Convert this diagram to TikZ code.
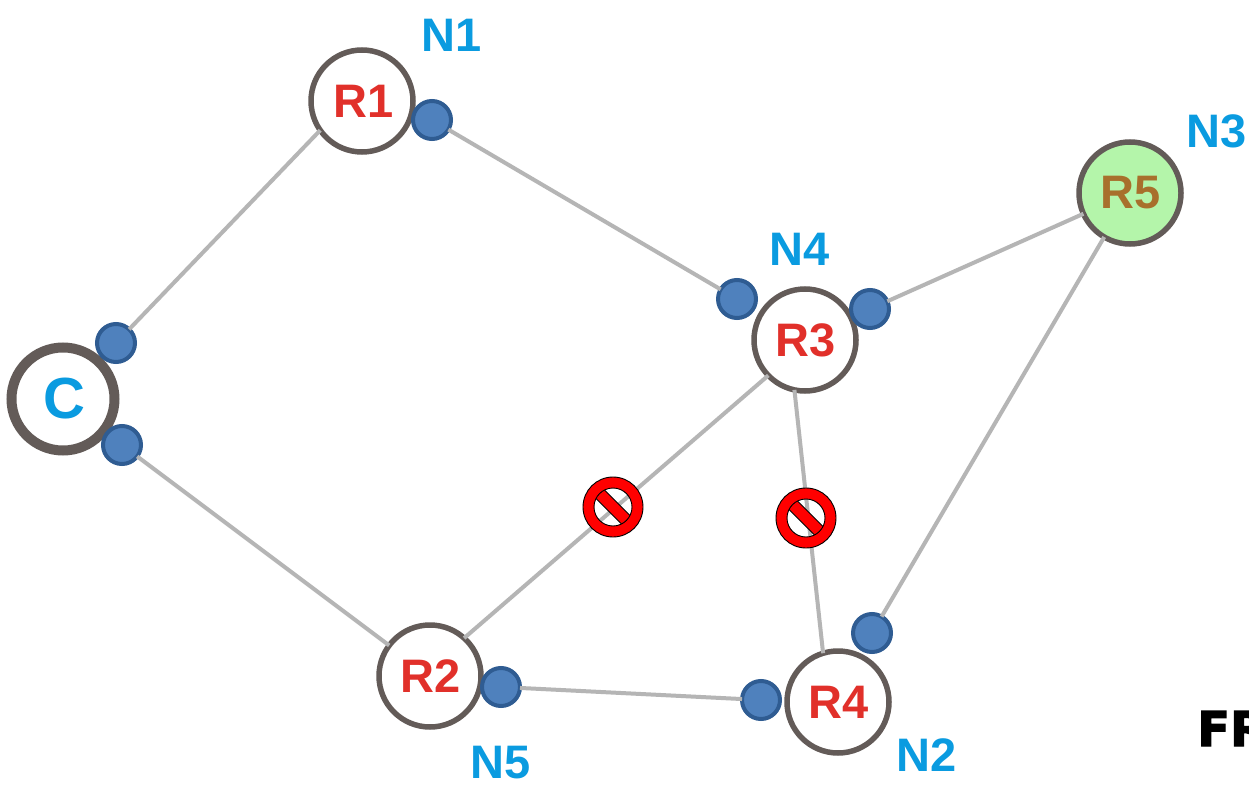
\documentclass[tikz,border=0pt]{standalone}
\usepackage{fontspec}
\setmainfont{Liberation Sans}
\newfontfamily\heavyfont[FakeBold=2.5]{DejaVu Sans Bold}
\definecolor{ringgray}{HTML}{635B58}
\definecolor{routerred}{HTML}{E1302A}
\definecolor{labelblue}{HTML}{0A9BE0}
\definecolor{dotfill}{HTML}{4F81BD}
\definecolor{dotline}{HTML}{2F5C92}
\definecolor{edgegray}{HTML}{B5B5B5}
\definecolor{greenfill}{HTML}{B4F5AA}
\definecolor{browntext}{HTML}{A8702C}
\tikzset{
  router/.style={circle,draw=ringgray,line width=5.5pt,fill=white,minimum size=102pt,inner sep=0pt,outer sep=0pt,
     text=routerred,font=\fontsize{47pt}{47pt}\selectfont\bfseries},
  client/.style={router,line width=10pt,minimum size=103pt,text=labelblue,font=\fontsize{58pt}{58pt}\selectfont\bfseries},
  dest/.style={router,fill=greenfill,text=browntext},
  dot/.style={circle,draw=dotline,line width=4pt,fill=dotfill,minimum size=38pt,inner sep=0pt,outer sep=0pt},
  netlabel/.style={text=labelblue,inner sep=0pt,font=\fontsize{47pt}{47pt}\selectfont\bfseries},
  edge/.style={draw=edgegray,line width=4pt},
  blocked/.pic={
    \begin{scope}
      \clip (0,0) circle (20pt);
      \draw[black,line width=0.8pt,fill=red,rotate=-45] (-24pt,-6pt) rectangle (24pt,6pt);
    \end{scope}
    \fill[red,even odd rule] (0,0) circle (30pt) (0,0) circle (19pt);
    \draw[black,line width=0.9pt] (0,0) circle (30pt);
    \draw[black,line width=0.9pt] (0,0) circle (19pt);
  },
}
\begin{document}
\begin{tikzpicture}[x=1pt,y=-1pt]
\useasboundingbox (0,0) rectangle (1249,786);
\clip (0,0) rectangle (1249,786);
\fill[white] (0,0) rectangle (1249,786);
\node[router] (R1) at (362,101) {\kern3pt R1};
\node[router] (R2) at (430,676) {\kern2pt R2};
\node[router] (R3) at (805,340) {\kern2pt R3};
\node[router] (R4) at (838,702) {\kern2pt R4};
\node[dest] (R5) at (1130,193) {\kern2pt R5};
\node[client] (C) at (63,399) {\kern3pt C};
\node[dot] (d1) at (432,120) {};
\node[dot] (d4) at (737,299) {};
\node[dot] (d3) at (870,309) {};
\node[dot] (c1) at (116,343) {};
\node[dot] (c2) at (122,445) {};
\node[dot] (d2) at (872,633) {};
\node[dot] (d6) at (761,700) {};
\node[dot] (d5) at (501,687) {};
\path[edge] (c1) -- (R1.215);
\path[edge] (d1) -- (d4);
\path[edge] (d3) -- (R5);
\path[edge] (d2) -- (R5);
\path[edge] (c2) -- (R2);
\path[edge] (R2.48) -- (R3.224);
\path[edge] (R3.258) -- (R4.107);
\path[edge] (d5) -- (d6);
\pic at (613,507) {blocked};
\pic at (806,518) {blocked};
\node[netlabel] (n1) at (452,35) {N1};
\node[netlabel] (n2) at (927,755) {N2};
\node[netlabel] (n3) at (1217,131) {N3};
\node[netlabel] (n4) at (800,249) {N4};
\node[netlabel] (n5) at (501,763) {N5};
\node[anchor=base west,inner sep=0pt,text=black] (fr) at (1197,746) {\heavyfont\fontsize{48pt}{48pt}\selectfont FR};
\end{tikzpicture}
\end{document}
